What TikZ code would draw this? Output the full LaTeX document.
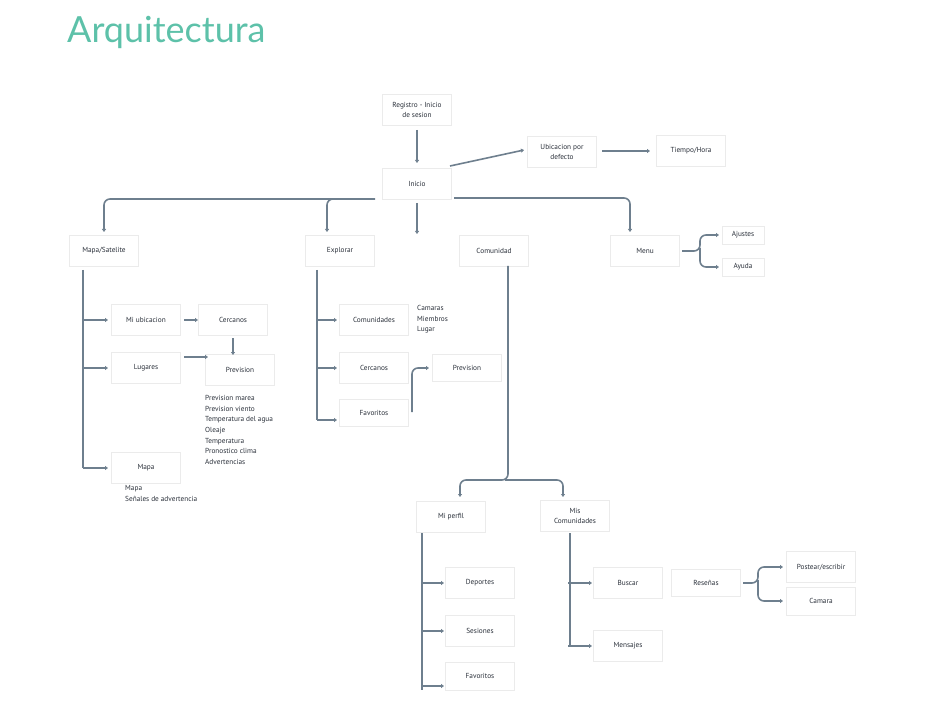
\documentclass[tikz,border=0pt]{standalone}
\usepackage{fontspec}
\setmainfont{PT Sans}
\newfontfamily\titlefont{Lato}
\usetikzlibrary{arrows.meta}
\definecolor{ln}{HTML}{6E7F8E}
\definecolor{tl}{HTML}{5DC1A9}
\definecolor{tx}{HTML}{2A303A}
\begin{document}
\begin{tikzpicture}[x=1pt,y=-1pt,
  box/.style={draw=black!8,fill=white,minimum width=69pt,minimum height=31pt,font=\fontsize{7.3}{9.5}\selectfont,text=tx,align=center,inner sep=1pt},
  sbox/.style={box,minimum width=42pt,minimum height=18pt},
  lbl/.style={font=\fontsize{7.3}{10.7}\selectfont,text=tx,align=left,anchor=north west,inner sep=0pt},
  con/.style={draw=ln,line width=1.6pt,-{Triangle[length=3pt,width=4pt]},rounded corners=6pt},
  ln/.style={draw=ln,line width=1.6pt,rounded corners=6pt}]
\useasboundingbox (0,0) rectangle (926,703);
\node[anchor=west,text=tl,font=\titlefont\fontsize{36}{40}\selectfont,inner sep=0pt] (title) at (67,32) {Arquitectura};
\node[box] (reg) at (417,110) {Registro - Inicio\\de sesion};
\node[box] (ini) at (417,184) {Inicio};
\node[box] (ubi) at (562,152) {Ubicacion por\\defecto};
\node[box] (tie) at (691,151) {Tiempo/Hora};
\node[box] (map) at (104,251) {Mapa/Satelite};
\node[box] (exp) at (340,251) {Explorar};
\node[box] (com) at (494,251) {Comunidad};
\node[box] (men) at (645,251) {Menu};
\node[sbox] (aju) at (743,235) {Ajustes};
\node[sbox] (ayu) at (743,267) {Ayuda};
\node[box] (miu) at (146,320) {Mi ubicacion};
\node[box] (cer1) at (233,320) {Cercanos};
\node[box] (lug) at (146,368) {Lugares};
\node[box] (pre1) at (240,370) {Prevision};
\node[box] (mapa) at (146,468) {Mapa};
\node[box] (cmd) at (374,320) {Comunidades};
\node[box] (cer2) at (374,368) {Cercanos};
\node[box,minimum height=27pt] (fav1) at (374,413) {Favoritos};
\node[box,minimum height=27pt] (pre2) at (467,368) {Prevision};
\node[box] (mip) at (451,517) {Mi perfil};
\node[box] (mis) at (575,516) {Mis\\Comunidades};
\node[box] (dep) at (480,583) {Deportes};
\node[box] (ses) at (480,631) {Sesiones};
\node[box,minimum height=28pt] (fav2) at (480,676) {Favoritos};
\node[box] (bus) at (628,583) {Buscar};
\node[box] (msj) at (628,646) {Mensajes};
\node[box,minimum height=27pt] (res) at (706,583) {Reseñas};
\node[box] (pos) at (821,567) {Postear/escribir};
\node[box,minimum height=28pt] (cam) at (821,601) {Camara};
\node[lbl] (t1) at (205,395) {Prevision marea\\Prevision viento\\Temperatura del agua\\Oleaje\\Temperatura\\Pronostico clima\\Advertencias};
\node[lbl] (t2) at (125,485) {Mapa\\Señales de advertencia};
\node[lbl] (t3) at (417,305) {Camaras\\Miembros\\Lugar};
\coordinate (c0) at (417,234);
% connectors
\draw[con] (417,130) -- (417,163);
\draw[con] (450,166) -- (524,150);
\draw[con] (602,151) -- (650,151);
\draw[con] (375,199) -- (104,199) -- (104,232);
\draw[con] (330,199) -- (327,199) -- (327,232);
\draw[con] (417,203) -- (c0);
\draw[con] (454,198) -- (630,198) -- (630,232);
\draw[con] (682,251) -- (700,251) -- (700,235) -- (719,235);
\draw[con] (700,248) -- (700,267) -- (719,267);
\draw[ln] (83,270) -- (83,468);
\foreach \y in {320,368,468} \draw[con] (83,\y) -- (108,\y);
\draw[con] (184,320) -- (198,320);
\draw[con] (233,338) -- (233,355);
\draw[con] (184,357) -- (208,357);
\draw[ln] (317,270) -- (317,420);
\foreach \y in {320,368,420} \draw[con] (317,\y) -- (337,\y);
\draw[con] (412,412) -- (412,368) -- (429,368);
\draw[con] (508,266) -- (508,480) -- (460,480) -- (460,497);
\draw[con] (505,480) -- (563,480) -- (563,497);
\draw[ln] (422,533) -- (422,690);
\foreach \y in {583,631,686} \draw[con] (422,\y) -- (444,\y);
\draw[ln] (570,533) -- (570,646);
\foreach \y in {583,646} \draw[con] (568,\y) -- (592,\y);
\draw[con] (743,583) -- (758,583) -- (758,567) -- (783,567);
\draw[con] (758,580) -- (758,601) -- (783,601);
\end{tikzpicture}
\end{document}
